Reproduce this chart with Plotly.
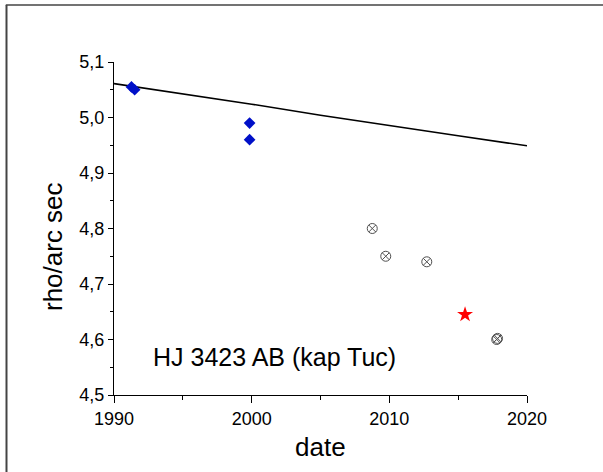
import plotly.graph_objects as go

# Ephemeris curve (separation vs. epoch)
ephem_year = [1990, 1995, 2000, 2005, 2010, 2015, 2020]
ephem_rho = [5.061, 5.043, 5.024, 5.004, 4.985, 4.967, 4.949]

# Early measurements
early_year = [1991.27, 1991.5, 1999.85, 1999.85]
early_rho = [5.055, 5.050, 4.990, 4.960]

# Recent measurements
recent_year = [2008.76, 2009.74, 2012.72, 2017.80, 2017.86]
recent_rho = [4.800, 4.750, 4.740, 4.600, 4.602]

# New measurement
new_year = [2015.5]
new_rho = [4.645]

y_ticks = [4.5, 4.6, 4.7, 4.8, 4.9, 5.0, 5.1]
y_tick_text = ["4,5", "4,6", "4,7", "4,8", "4,9", "5,0", "5,1"]
x_ticks = [1990, 2000, 2010, 2020]

font = "Arial, Liberation Sans, sans-serif"

fig = go.Figure()
fig.add_trace(go.Scatter(x=ephem_year, y=ephem_rho, mode="lines",
                         line=dict(color="black", width=1.6), showlegend=False))
fig.add_trace(go.Scatter(x=early_year, y=early_rho, mode="markers",
                         marker=dict(symbol="diamond", size=9, color="#0010c8"),
                         showlegend=False))
fig.add_trace(go.Scatter(x=recent_year, y=recent_rho, mode="markers",
                         marker=dict(symbol="circle-x-open", size=10, color="#505050",
                                     line=dict(width=1, color="#505050")),
                         showlegend=False))
fig.add_trace(go.Scatter(x=new_year, y=new_rho, mode="markers",
                         marker=dict(symbol="star", size=12, color="#ff0000",
                                     line=dict(width=0)),
                         showlegend=False))

fig.update_xaxes(range=[1990, 2020], tickvals=x_ticks, ticks="outside", ticklen=7,
                 tickwidth=1.2, tickcolor="black", showline=True, linecolor="black",
                 linewidth=1.4, showgrid=False, zeroline=False,
                 tickfont=dict(family=font, size=18, color="black"),
                 minor=dict(tickvals=[1995, 2005, 2015], ticks="outside", ticklen=4,
                            tickcolor="black", tickwidth=1.2, showgrid=False))
fig.update_yaxes(range=[4.5, 5.1], tickvals=y_ticks, ticktext=y_tick_text,
                 ticks="outside", ticklen=5, tickwidth=1.2, tickcolor="black",
                 showline=True, linecolor="black", linewidth=1.4, showgrid=False,
                 zeroline=False, tickfont=dict(family=font, size=18, color="black"),
                 minor=dict(dtick=0.05, ticks="outside", ticklen=3, tickcolor="black",
                            tickwidth=1.2, showgrid=False))

fig.add_annotation(x=2001.66, y=4.568, xref="x", yref="y", text="HJ 3423 AB (kap Tuc)",
                   showarrow=False, font=dict(family=font, size=25, color="black"))
fig.add_annotation(x=0.5, y=-0.155, xref="paper", yref="paper", text="date",
                   showarrow=False, yanchor="middle",
                   font=dict(family=font, size=26, color="black"))
fig.add_annotation(x=-0.148, y=0.447, xref="paper", yref="paper", text="rho/arc sec",
                   textangle=-90, showarrow=False, xanchor="center", yanchor="middle",
                   font=dict(family=font, size=26, color="black"))

# Frame lines along the top and left edges of the page
fig.add_shape(type="line", xref="paper", yref="paper", x0=-0.262, x1=1.3,
              y0=1.1712, y1=1.1712, line=dict(color="#444444", width=1.6))
fig.add_shape(type="line", xref="paper", yref="paper", x0=-0.2603, x1=-0.2603,
              y0=-0.3, y1=1.1712, line=dict(color="#444444", width=2))

fig.update_layout(width=603, height=472, margin=dict(l=114, r=76, t=62, b=77),
                  paper_bgcolor="white", plot_bgcolor="white",
                  font=dict(family=font))

fig.write_html("out.html")
